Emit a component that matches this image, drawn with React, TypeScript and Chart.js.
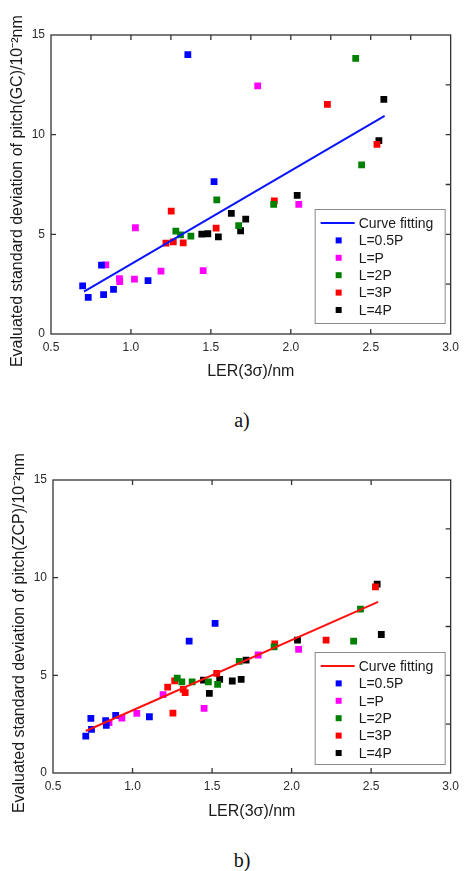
import React, { useEffect, useRef } from 'react';
import { Chart, registerables } from 'chart.js';
Chart.register(...registerables);

Chart.defaults.font.family = '"Liberation Sans", Arial, sans-serif';

// ---------- shared ----------
const seriesNames = ['L=0.5P', 'L=P', 'L=2P', 'L=3P', 'L=4P'];
const seriesColors = ['#0000ff', '#ff00ff', '#008000', '#ff0000', '#000000'];
const xMin = 0.5;
const xMax = 3.0;
const yMin = 0;
const yMax = 15;
const xTickStep = 0.5;
const yTickStep = 5;
const xAxisTitle = 'LER(3σ)/nm';

// ---------- chart a) pitch(GC) ----------
const gcHalfP = [[1.356, 14.02], [1.52, 7.64], [0.816, 3.45], [1.107, 2.68], [0.698, 2.41], [0.733, 1.84], [0.829, 1.98], [0.891, 2.24]];
const gcP = [[1.793, 12.45], [2.05, 6.5], [1.028, 5.33], [0.843, 3.47], [1.188, 3.15], [1.452, 3.18], [0.928, 2.78], [0.93, 2.63], [1.022, 2.75]];
const gc2P = [[2.406, 13.83], [2.443, 8.48], [1.537, 6.73], [1.893, 6.5], [1.674, 5.44], [1.281, 5.16], [1.31, 4.97], [1.375, 4.91]];
const gc3P = [[2.229, 11.52], [2.539, 9.51], [1.897, 6.68], [1.252, 6.16], [1.533, 5.31], [1.219, 4.56], [1.265, 4.62], [1.327, 4.57]];
const gc4P = [[2.582, 11.77], [2.551, 9.7], [2.04, 6.95], [1.628, 6.05], [1.718, 5.76], [1.686, 5.18], [1.443, 5.01], [1.481, 5.03], [1.547, 4.87]];
const gcFitX = [0.706, 2.587];
const gcFitY = [2.13, 10.94];
const gcYTitle = 'Evaluated standard deviation of pitch(GC)/10⁻²nm   ';

// ---------- chart b) pitch(ZCP) ----------
const zcpHalfP = [[1.519, 7.66], [1.356, 6.75], [0.738, 2.8], [0.831, 2.68], [0.894, 2.95], [0.835, 2.44], [1.106, 2.88], [0.742, 2.23], [0.706, 1.89]];
const zcpP = [[2.044, 6.33], [1.79, 6.04], [1.192, 4.01], [1.45, 3.31], [0.933, 2.81], [1.027, 3.05], [0.852, 2.58]];
const zcp2P = [[2.433, 8.39], [2.39, 6.75], [1.89, 6.46], [1.671, 5.71], [1.281, 4.86], [1.31, 4.67], [1.375, 4.67], [1.477, 4.67], [1.535, 4.54]];
const zcp3P = [[2.527, 9.53], [2.217, 6.8], [1.894, 6.61], [1.529, 5.1], [1.265, 4.72], [1.221, 4.4], [1.319, 4.28], [1.331, 4.11], [1.254, 3.07]];
const zcp4P = [[2.538, 9.67], [2.564, 7.09], [2.037, 6.8], [1.714, 5.78], [1.446, 4.76], [1.548, 4.79], [1.627, 4.71], [1.683, 4.79], [1.483, 4.08]];
const zcpFitX = [0.706, 2.544];
const zcpFitY = [2.15, 8.76];
const zcpYTitle = 'Evaluated standard deviation of pitch(ZCP)/10⁻²nm   ';

// tick marks drawn inside the frame
const bottomTickVals = [1.0, 1.5, 2.0, 2.5];
const topTickValsA = [0.75, 1.0, 1.25, 1.5, 1.75, 2.0, 2.25, 2.5, 2.75];
const topTickValsB = [1.0, 1.5, 2.0, 2.5];
const leftTickVals = [5, 10];
const rightTickVals = [2.5, 5, 7.5, 10, 12.5];

const framePlugin = {
  id: 'frameLegend',
  afterDraw(chart: any, _args: any, opts: any) {
    const { ctx, chartArea, scales } = chart;
    const { left, right, top, bottom } = chartArea;
    const x = scales.x;
    const y = scales.y;
    ctx.save();
    ctx.strokeStyle = '#333333';
    ctx.lineWidth = 1.3;
    ctx.strokeRect(left, top, right - left, bottom - top);
    const tl = 5;
    ctx.beginPath();
    (opts.bottomTicks || []).forEach((v: number) => {
      const p = x.getPixelForValue(v);
      ctx.moveTo(p, bottom);
      ctx.lineTo(p, bottom - tl);
    });
    (opts.topTicks || []).forEach((v: number) => {
      const p = x.getPixelForValue(v);
      ctx.moveTo(p, top);
      ctx.lineTo(p, top + tl);
    });
    (opts.leftTicks || []).forEach((v: number) => {
      const p = y.getPixelForValue(v);
      ctx.moveTo(left, p);
      ctx.lineTo(left + tl, p);
    });
    (opts.rightTicks || []).forEach((v: number) => {
      const p = y.getPixelForValue(v);
      ctx.moveTo(right, p);
      ctx.lineTo(right - tl, p);
    });
    ctx.stroke();

    // legend box
    const lw = opts.legendW;
    const lh = opts.legendH;
    const lx = right - opts.legendRight - lw;
    const ly = bottom - opts.legendBottom - lh;
    ctx.fillStyle = '#ffffff';
    ctx.fillRect(lx, ly, lw, lh);
    ctx.strokeStyle = '#8a8a8a';
    ctx.lineWidth = 1;
    ctx.strokeRect(lx + 0.5, ly + 0.5, lw, lh);
    const rowH = 17.4;
    ctx.font = '14px "Liberation Sans", Arial, sans-serif';
    ctx.textBaseline = 'middle';
    ctx.textAlign = 'left';
    chart.data.datasets.forEach((ds: any, i: number) => {
      const cy = ly + 14 + i * rowH;
      if (ds.showLine) {
        ctx.strokeStyle = ds.borderColor;
        ctx.lineWidth = 2;
        ctx.beginPath();
        ctx.moveTo(lx + 6, cy);
        ctx.lineTo(lx + 40, cy);
        ctx.stroke();
      } else {
        ctx.fillStyle = ds.backgroundColor;
        ctx.fillRect(lx + 21, cy - 3, 6, 6);
      }
      ctx.fillStyle = '#1a1a1a';
      ctx.fillText(ds.label, lx + 44, cy + 1);
    });
    ctx.restore();
  },
};

type Cfg = {
  series: number[][][];
  fitX: number[];
  fitY: number[];
  fitColor: string;
  yTitle: string;
  topPad: number;
  axisW: number;
  plotBottom: number;
  height: number;
  topTicks: number[];
  legendBottom: number;
  legendH: number;
  yTitlePad: number;
};

function ScatterPanel({ cfg }: { cfg: Cfg }) {
  const ref = useRef<HTMLCanvasElement | null>(null);
  useEffect(() => {
    if (!ref.current) return;
    const datasets: any[] = [
      {
        label: 'Curve fitting',
        data: cfg.fitX.map((v, i) => ({ x: v, y: cfg.fitY[i] })),
        showLine: true,
        borderColor: cfg.fitColor,
        backgroundColor: cfg.fitColor,
        borderWidth: 2,
        pointRadius: 0,
        order: 0,
      },
      ...cfg.series.map((pts, i) => ({
        label: seriesNames[i],
        data: pts.map((p) => ({ x: p[0], y: p[1] })),
        showLine: false,
        backgroundColor: seriesColors[i],
        borderColor: seriesColors[i],
        borderWidth: 0,
        pointStyle: 'rect',
        pointRadius: 4.8,
        order: 1,
      })),
    ];
    const chart = new Chart(ref.current, {
      type: 'scatter',
      data: { datasets },
      plugins: [framePlugin],
      options: {
        animation: false,
        responsive: true,
        maintainAspectRatio: false,
        layout: { padding: { left: 0, right: 12, top: cfg.topPad, bottom: 0 } },
        plugins: {
          legend: { display: false },
          title: { display: false },
          tooltip: { enabled: false },
          frameLegend: {
            bottomTicks: bottomTickVals,
            topTicks: cfg.topTicks,
            leftTicks: leftTickVals,
            rightTicks: rightTickVals,
            legendW: 130,
            legendH: cfg.legendH,
            legendRight: 6,
            legendBottom: cfg.legendBottom,
          },
        } as any,
        scales: {
          x: {
            type: 'linear',
            min: xMin,
            max: xMax,
            grid: { display: false, drawTicks: false },
            border: { display: false },
            ticks: {
              stepSize: xTickStep,
              autoSkip: false,
              maxRotation: 0,
              padding: 6,
              color: '#2a2a2a',
              font: { size: 12 },
              callback: (v: any) => Number(v).toFixed(1),
            },
            title: {
              display: true,
              text: xAxisTitle,
              color: '#1a1a1a',
              font: { size: 16 },
              padding: { top: 0, bottom: 14 },
            },
            afterFit: (s: any) => {
              s.height = cfg.height - cfg.plotBottom;
            },
          },
          y: {
            type: 'linear',
            min: yMin,
            max: yMax,
            grid: { display: false, drawTicks: false },
            border: { display: false },
            ticks: {
              stepSize: yTickStep,
              padding: 6,
              color: '#2a2a2a',
              font: { size: 12 },
            },
            title: {
              display: true,
              text: cfg.yTitle,
              color: '#1a1a1a',
              font: { size: 16 },
              padding: { top: cfg.yTitlePad, bottom: 0 },
            },
            afterFit: (s: any) => {
              s.width = cfg.axisW;
            },
          },
        },
      } as any,
    });
    return () => chart.destroy();
  }, [cfg]);
  return (
    <div style={{ position: 'relative', width: 465, height: cfg.height }}>
      <canvas ref={ref} />
    </div>
  );
}

const cfgA: Cfg = {
  series: [gcHalfP, gcP, gc2P, gc3P, gc4P],
  fitX: gcFitX,
  fitY: gcFitY,
  fitColor: '#0a14ff',
  yTitle: gcYTitle,
  topPad: 35,
  axisW: 51,
  plotBottom: 334,
  height: 395,
  topTicks: topTickValsA,
  legendBottom: 11,
  legendH: 114,
  yTitlePad: 8,
};

const cfgB: Cfg = {
  series: [zcpHalfP, zcpP, zcp2P, zcp3P, zcp4P],
  fitX: zcpFitX,
  fitY: zcpFitY,
  fitColor: '#ff1010',
  yTitle: zcpYTitle,
  topPad: 40,
  axisW: 53,
  plotBottom: 333,
  height: 395,
  topTicks: topTickValsB,
  legendBottom: 9,
  legendH: 112,
  yTitlePad: 10,
};

const captionStyle: React.CSSProperties = {
  position: 'absolute',
  left: 0,
  width: 484,
  textAlign: 'center',
  fontFamily: '"Liberation Serif", "Times New Roman", serif',
  fontSize: 20,
  color: '#111',
  lineHeight: '24px',
};

export default function App() {
  return (
    <div style={{ position: 'absolute', left: 0, top: 0, width: 465, height: 871, background: '#fff', overflow: 'hidden' }}>
      <div style={{ position: 'absolute', left: 0, top: 0 }}>
        <ScatterPanel cfg={cfgA} />
      </div>
      <div style={{ ...captionStyle, top: 408 }}>a)</div>
      <div style={{ position: 'absolute', left: 0, top: 440 }}>
        <ScatterPanel cfg={cfgB} />
      </div>
      <div style={{ ...captionStyle, top: 848 }}>b)</div>
    </div>
  );
}
